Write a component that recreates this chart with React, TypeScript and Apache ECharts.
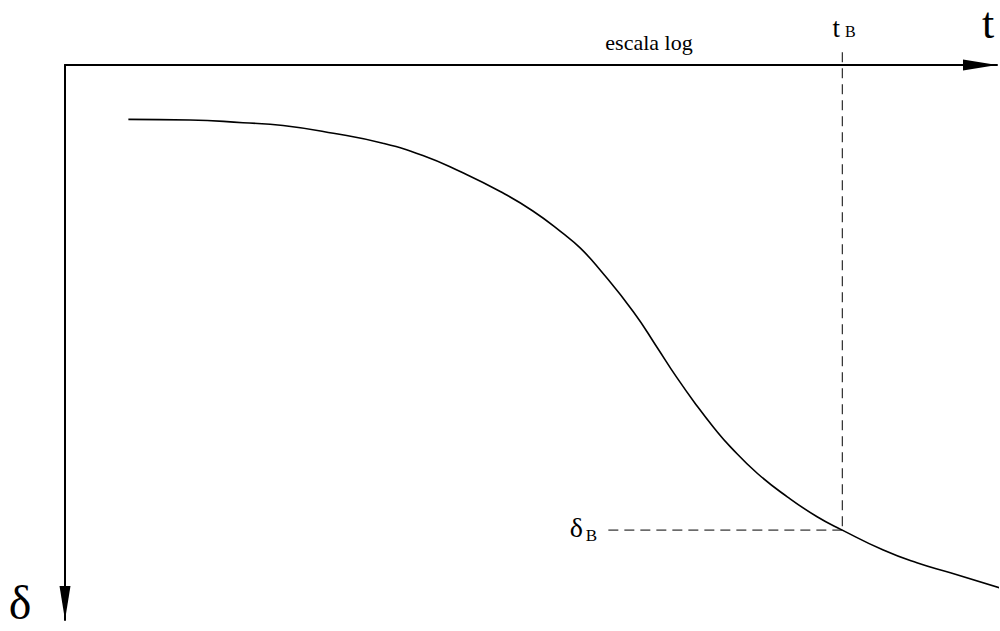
import React, { useEffect, useRef } from "react";
import * as echarts from "echarts";

// Horizontal position along the log-time axis (0–100) and settlement δ (0–100, growing downward)
const logTime = [6.8, 13.4, 19.1, 23.4, 28.8, 34.1, 38.4, 42.4, 46.7, 50.2, 53.4, 55.3, 57.4, 61.0, 63.5, 65.6, 67.8, 69.6, 71.4, 74.3, 77.5, 80.7, 83.4, 87.8, 91.4, 95.0, 100.3];
const settlement = [9.8, 9.9, 10.4, 10.9, 12.3, 14.1, 16.3, 19.2, 22.8, 26.3, 30.3, 33.0, 36.9, 44.5, 50.8, 56.2, 61.4, 65.3, 68.8, 73.6, 77.8, 81.4, 83.8, 87.4, 89.7, 91.5, 94.2];

// Point B on the curve and the extents of its guide lines
const tB = 83.4;
const deltaB = 83.8;
const guideStartX = 58.3;
const guideTopY = -2.3;

const axisLabel = "escala log";
const SERIF = "'Liberation Serif', 'DejaVu Serif', serif";

export default function App() {
  const ref = useRef<HTMLDivElement>(null);

  useEffect(() => {
    if (!ref.current) return;
    const chart = echarts.init(ref.current, null, { renderer: "svg" });

    const curve = logTime.map((x, i) => [x, settlement[i]]);

    chart.setOption({
      animation: false,
      backgroundColor: "#ffffff",
      grid: { left: 65, top: 65, right: 3, bottom: 11 },
      xAxis: {
        type: "value",
        position: "top",
        min: 0,
        max: 100,
        axisLine: {
          onZero: false,
          lineStyle: { color: "#000", width: 2 },
          symbol: ["none", "triangle"],
          symbolSize: [11, 34],
          symbolOffset: [0, -17],
        },
        axisTick: { show: false },
        axisLabel: { show: false },
        splitLine: { show: false },
      },
      yAxis: {
        type: "value",
        inverse: true,
        min: 0,
        max: 100,
        axisLine: {
          onZero: false,
          lineStyle: { color: "#000", width: 2 },
          symbol: ["triangle", "none"],
          symbolSize: [11, 34],
          symbolOffset: [17, 0],
        },
        axisTick: { show: false },
        axisLabel: { show: false },
        splitLine: { show: false },
      },
      series: [
        {
          type: "line",
          data: curve,
          smooth: 0.5,
          symbol: "none",
          clip: false,
          silent: true,
          lineStyle: { color: "#000", width: 1.6 },
        },
        {
          type: "line",
          data: [
            [guideStartX, deltaB],
            [tB, deltaB],
          ],
          symbol: "none",
          clip: false,
          silent: true,
          lineStyle: { color: "#000", width: 1, type: [10, 6] },
        },
        {
          type: "line",
          data: [
            [tB, guideTopY],
            [tB, deltaB],
          ],
          symbol: "none",
          clip: false,
          silent: true,
          lineStyle: { color: "#000", width: 1, type: [10, 6] },
        },
      ],
    });

    const [bx] = chart.convertToPixel({ gridIndex: 0 }, [tB, deltaB]) as number[];
    const [sx, sy] = chart.convertToPixel({ gridIndex: 0 }, [guideStartX, deltaB]) as number[];

    const txt = (text: string, x: number, y: number, size: number, align = "center") => ({
      type: "text",
      x,
      y,
      silent: true,
      style: {
        text,
        fill: "#000",
        font: `${size}px ${SERIF}`,
        align,
        verticalAlign: "middle",
      },
    });

    chart.setOption({
      graphic: [
        txt(axisLabel, 649, 42, 22),
        txt("t", 988, 23, 44),
        txt("t", bx - 6, 28, 27),
        txt("B", bx + 8, 31, 16),
        txt("δ", 20, 602, 48),
        txt("δ", sx - 32, sy - 3, 28),
        txt("B", sx - 17, sy + 5, 17),
      ],
    });

    return () => chart.dispose();
  }, []);

  return (
    <div
      ref={ref}
      style={{ position: "fixed", left: 0, top: 0, width: 1000, height: 631 }}
    />
  );
}
